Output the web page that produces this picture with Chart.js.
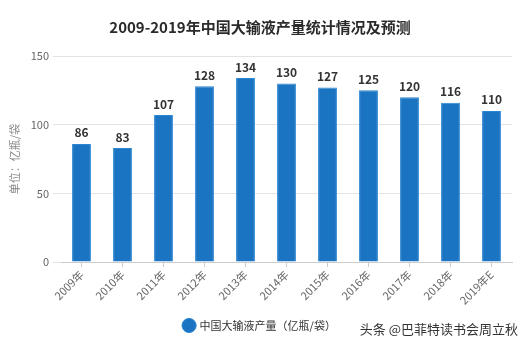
<!DOCTYPE html>
<html>
<head>
<meta charset="utf-8">
<script src="https://cdn.jsdelivr.net/npm/chart.js@4"></script>
<style>
  html, body { margin: 0; padding: 0; background: #fff; }
  #wrap { width: 528px; height: 347px; }
</style>
</head>
<body>
<div id="wrap"><canvas id="chart" width="528" height="347"></canvas></div>
<script>
const years = ['2009年', '2010年', '2011年', '2012年', '2013年', '2014年', '2015年', '2016年', '2017年', '2018年', '2019年E'];
const output = [86, 83, 107, 128, 134, 130, 127, 125, 120, 116, 110];
const yTicks = [0, 50, 100, 150];

const FONT = '"Noto Sans CJK SC", "Noto Sans", sans-serif';
const BLUE = '#1b74c2';

// value labels over each bar
const barLabels = {
  id: 'barLabels',
  afterDatasetsDraw(chart) {
    const ctx = chart.ctx;
    const meta = chart.getDatasetMeta(0);
    ctx.save();
    ctx.font = 'bold 12px ' + FONT;
    ctx.fillStyle = '#333';
    ctx.textAlign = 'center';
    ctx.textBaseline = 'bottom';
    meta.data.forEach((bar, i) => {
      ctx.fillText(output[i], bar.x, bar.y - 5);
    });
    ctx.restore();
  }
};

// source tag at bottom right
const sourceTag = {
  id: 'sourceTag',
  afterDraw(chart) {
    const ctx = chart.ctx;
    ctx.save();
    ctx.font = '13px ' + FONT;
    ctx.fillStyle = '#333';
    ctx.textAlign = 'right';
    ctx.textBaseline = 'middle';
    ctx.fillText('头条 @巴菲特读书会周立秋', 518, 329);
    ctx.restore();
  }
};

new Chart(document.getElementById('chart'), {
  type: 'bar',
  data: {
    labels: years,
    datasets: [{
      label: '中国大输液产量（亿瓶/袋）',
      data: output,
      backgroundColor: BLUE,
      borderColor: '#2a86d0',
      borderWidth: 1,
      barPercentage: 0.46,
      categoryPercentage: 1.0
    }]
  },
  options: {
    responsive: false,
    animation: false,
    layout: { padding: { left: 8, right: 16, top: 6, bottom: 6 } },
    plugins: {
      title: {
        display: true,
        text: '2009-2019年中国大输液产量统计情况及预测',
        font: { family: FONT, size: 15, weight: 'bold' },
        color: '#2b2b2b',
        padding: { top: 12, bottom: 20 }
      },
      legend: {
        position: 'bottom',
        labels: {
          usePointStyle: true,
          pointStyle: 'circle',
          boxWidth: 10,
          boxHeight: 10,
          font: { family: FONT, size: 11 },
          color: '#333',
          padding: 8
        }
      },
      tooltip: { enabled: false }
    },
    scales: {
      y: {
        min: 0,
        max: 150,
        afterBuildTicks: (s) => { s.ticks = yTicks.map(v => ({ value: v })); },
        afterFit: (s) => { s.width = 53; },
        grid: { color: '#e3e3e3', tickLength: 8 },
        border: { display: false },
        ticks: { font: { family: FONT, size: 11 }, color: '#666', padding: 4 },
        title: {
          display: true,
          text: '单位：亿瓶/袋',
          font: { family: FONT, size: 11 },
          color: '#888',
          padding: 0
        }
      },
      x: {
        grid: { display: true, drawOnChartArea: false, offset: false, color: '#ccc', tickLength: 5 },
        border: { color: '#ccc' },
        afterFit: (s) => { s.height = 50; },
        ticks: {
          font: { family: FONT, size: 11 },
          color: '#666',
          minRotation: 45,
          maxRotation: 45,
          autoSkip: false,
          padding: 1
        }
      }
    }
  },
  plugins: [barLabels, sourceTag]
});
</script>
</body>
</html>
